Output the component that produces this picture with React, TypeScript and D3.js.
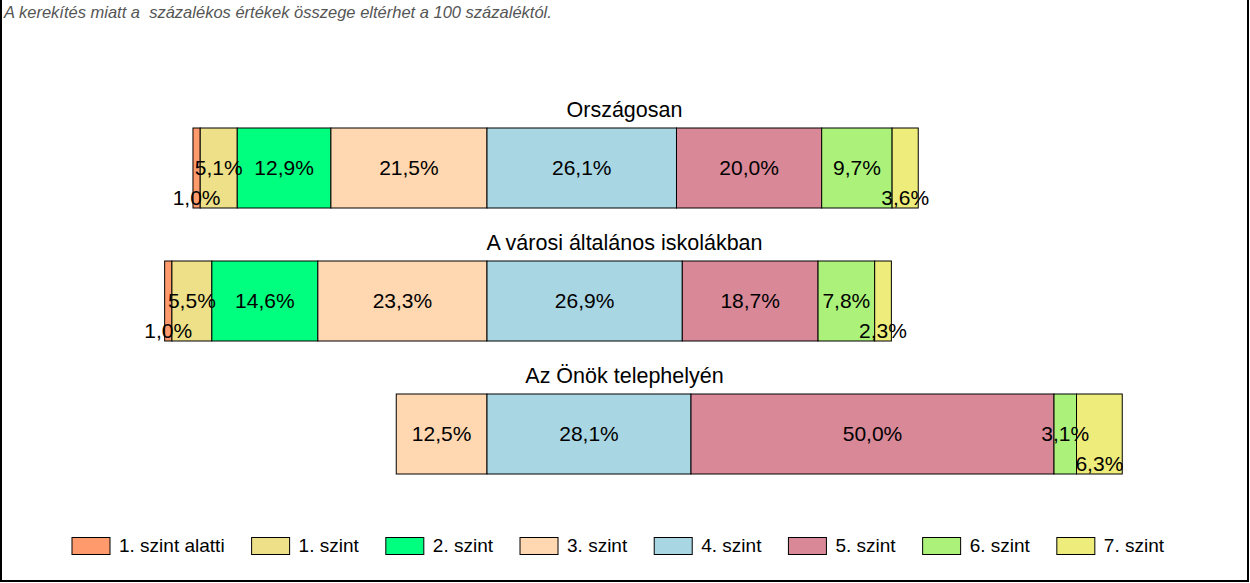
import React, { useEffect, useRef } from "react";
import * as d3 from "d3";

const W = 1250;
const H = 583;

const levels = [
  "1. szint alatti",
  "1. szint",
  "2. szint",
  "3. szint",
  "4. szint",
  "5. szint",
  "6. szint",
  "7. szint",
];
const colors = [
  "#FF9A6C",
  "#EEE088",
  "#00FF7F",
  "#FFD7B0",
  "#A9D6E3",
  "#D98898",
  "#ACF27A",
  "#EEEC7A",
];
const groups = ["Országosan", "A városi általános iskolákban", "Az Önök telephelyén"];
const orszagos = [1.0, 5.1, 12.9, 21.5, 26.1, 20.0, 9.7, 3.6];
const varosi = [1.0, 5.5, 14.6, 23.3, 26.9, 18.7, 7.8, 2.3];
const telephely = [0, 0, 0, 12.5, 28.1, 50.0, 3.1, 6.3];
const seriesValues = [orszagos, varosi, telephely];
const note = "A kerekítés miatt a  százalékos értékek összege eltérhet a 100 százaléktól.";

const FONT = "'Liberation Sans', Arial, sans-serif";

export default function App() {
  const ref = useRef<SVGSVGElement | null>(null);

  useEffect(() => {
    const svg = d3.select(ref.current);
    svg.selectAll("*").remove();

    const zero = 487;
    const pxPer = 7.26;
    const x = d3
      .scaleLinear()
      .domain([-60, 100])
      .range([zero - 60 * pxPer, zero + 100 * pxPer]);

    const barH = 80;
    const barTop = (i: number) => 128 + i * 133;

    svg.append("rect").attr("width", W).attr("height", H).attr("fill", "white");

    svg
      .append("text")
      .attr("x", 4)
      .attr("y", 18)
      .attr("font-family", FONT)
      .attr("font-style", "italic")
      .attr("font-size", 16.5)
      .attr("fill", "#555")
      .style("white-space", "pre")
      .text(note);

    groups.forEach((g, gi) => {
      const vals = seriesValues[gi];
      const top = barTop(gi);
      const before = vals.slice(0, 4).reduce((a, b) => a + b, 0);
      let cum = -before;
      const segs = vals.map((v, i) => {
        const s = { v, i, x0: x(cum), x1: x(cum + v) };
        cum += v;
        return s;
      });
      const nonZero = segs.filter((s) => s.v > 0);

      svg
        .append("text")
        .attr("x", 624.5)
        .attr("y", top - 11)
        .attr("text-anchor", "middle")
        .attr("font-family", FONT)
        .attr("font-size", 21.5)
        .attr("fill", "#000")
        .text(g);

      const gg = svg.append("g");
      gg.selectAll("rect")
        .data(nonZero)
        .join("rect")
        .attr("x", (d) => d.x0)
        .attr("y", top)
        .attr("width", (d) => d.x1 - d.x0)
        .attr("height", barH)
        .attr("fill", (d) => colors[d.i])
        .attr("stroke", "#000")
        .attr("stroke-width", 1);

      const labels = nonZero.map((d, k) => {
        const txt = d.v.toFixed(1).replace(".", ",") + "%";
        const tw = txt.length * 10;
        const edge = k === 0 || k === nonZero.length - 1;
        const low = edge && d.x1 - d.x0 < tw + 8;
        return { ...d, txt, low };
      });
      const ordered = [...labels.filter((l) => !l.low), ...labels.filter((l) => l.low)];
      gg.selectAll("text")
        .data(ordered)
        .join("text")
        .attr("x", (d) => (d.x0 + d.x1) / 2)
        .attr("y", (d) => (d.low ? top + barH - 3.5 : top + barH / 2 + 7))
        .attr("text-anchor", "middle")
        .attr("font-family", FONT)
        .attr("font-size", 21)
        .attr("fill", "#000")
        .text((d) => d.txt);
    });

    const lg = svg.append("g");
    let lx = 72;
    levels.forEach((lv, i) => {
      lg.append("rect")
        .attr("x", lx)
        .attr("y", 537.5)
        .attr("width", 38)
        .attr("height", 17)
        .attr("fill", colors[i])
        .attr("stroke", "#000")
        .attr("stroke-width", 1);
      const t = lg
        .append("text")
        .attr("x", lx + 47)
        .attr("y", 552)
        .attr("font-family", FONT)
        .attr("font-size", 19)
        .attr("fill", "#000")
        .text(lv);
      const tw = (t.node() as SVGTextElement).getComputedTextLength();
      lx += 38 + 9 + tw + 27;
    });

    svg
      .append("path")
      .attr("d", `M1,0 V581 H1248 V0`)
      .attr("fill", "none")
      .attr("stroke", "#000")
      .attr("stroke-width", 2);
  }, []);

  return (
    <svg
      ref={ref}
      width={W}
      height={H}
      style={{ position: "absolute", left: 0, top: 0, display: "block" }}
    />
  );
}
